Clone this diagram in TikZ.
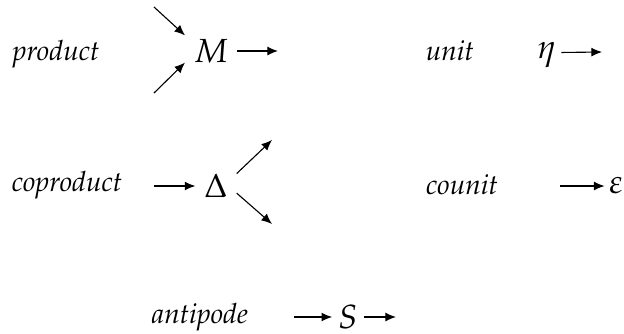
\documentclass[tikz,border=0pt]{standalone}
\usepackage[T1]{fontenc}
\usepackage{mathpazo}
\usetikzlibrary{arrows.meta}
\begin{document}
\begin{tikzpicture}[x=0.0126cm, y=-0.0126cm, >={Latex[length=3.8pt,width=3.2pt]},
    lbl/.style={font=\itshape, anchor=base},
    sym/.style={font=\large, inner ysep=3pt, inner xsep=#1},
    sym/.default=1.5pt,
    arr/.style={->, thin}]
  \useasboundingbox (0,0) rectangle (624,333);

  % product
  \node[lbl] (prod) at (56,60) {product};
  \node[sym=3pt] (M) at (211,51) {$M$};
  \coordinate (pa) at (154,7);
  \coordinate (pb) at (154,93);
  \coordinate (pc) at (278,51);
  \draw[arr] (pa) -- (M.149);
  \draw[arr] (pb) -- (M.204);
  \draw[arr] (M.east) -- (pc);

  % unit
  \node[lbl] (unit) at (450,60) {unit};
  \node[sym] (eta) at (547,55) {$\eta$};
  \coordinate (ua) at (602,52);
  \draw[arr] (eta.10) -- (ua);

  % coproduct
  \node[lbl] (coprod) at (67,191) {coproduct};
  \node[sym=3pt] (D) at (216,186) {$\Delta$};
  \coordinate (ca) at (154,186);
  \coordinate (cb) at (272,140);
  \coordinate (cc) at (272,224);
  \draw[arr] (ca) -- (D.west);
  \draw[arr] (D.31) -- (cb);
  \draw[arr] (D.341) -- (cc);

  % counit
  \node[lbl] (counit) at (462,194) {counit};
  \node[sym] (eps) at (616,186) {$\varepsilon$};
  \coordinate (ea) at (560,186);
  \draw[arr] (ea) -- (eps.west);

  % antipode
  \node[lbl] (anti) at (200,323) {antipode};
  \node[sym=2pt, inner ysep=0.5pt] (S) at (348,317) {$S$};
  \coordinate (sa) at (294,317);
  \coordinate (sb) at (396,317);
  \draw[arr] (sa) -- (S.west);
  \draw[arr] (S.east) -- (sb);
\end{tikzpicture}
\end{document}
